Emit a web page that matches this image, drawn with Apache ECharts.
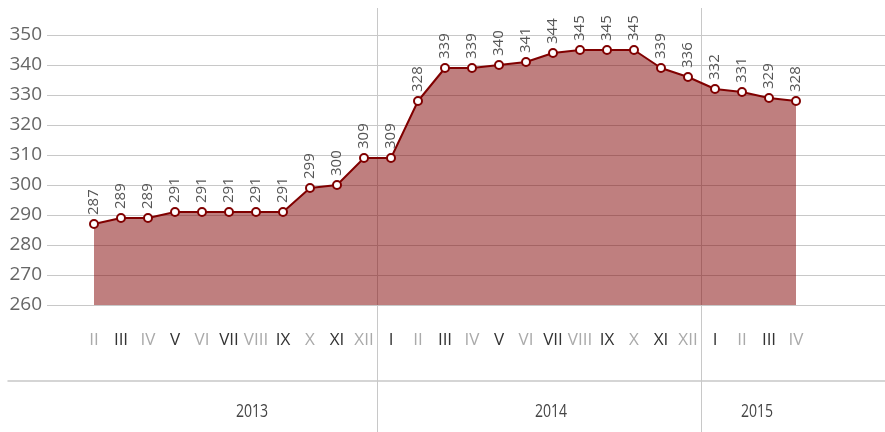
<!DOCTYPE html>
<html>
<head>
<meta charset="utf-8">
<script src="https://cdn.jsdelivr.net/npm/echarts@6/dist/echarts.min.js"></script>
<style>html,body{margin:0;padding:0;background:#fff}#c{width:885px;height:432px}</style>
</head>
<body>
<div id="c"></div>
<script>
const months = ['II','III','IV','V','VI','VII','VIII','IX','X','XI','XII','I','II','III','IV','V','VI','VII','VIII','IX','X','XI','XII','I','II','III','IV'];
const values = [287,289,289,291,291,291,291,291,299,300,309,309,328,339,339,340,341,344,345,345,345,339,336,332,331,329,328];
const years = ['2013','2014','2015'];
const yearLabelX = [252, 551, 757];
const yMin = 260, yMax = 350, yStep = 10;
const romans = ['I','II','III','IV','V','VI','VII','VIII','IX','X','XI','XII'];
const FONT = '"Open Sans", sans-serif';

const chart = echarts.init(document.getElementById('c'), null, {renderer: 'canvas'});
const N = months.length;
const band = 27;
const dataLeft = 80.5;
const dataWidth = band * N;

const option = {
  animation: false,
  grid: [
    {left: dataLeft, width: dataWidth, top: 35, height: 270},
    {left: 47, right: 0, top: 35, height: 270},
    {left: dataLeft, width: dataWidth, top: 8, bottom: 0},
    {left: 8, right: 0, top: 300, height: 81}
  ],
  xAxis: [
    {
      gridIndex: 0, type: 'category', data: months, boundaryGap: true,
      axisLine: {show: false}, axisTick: {show: false}, splitLine: {show: false},
      axisLabel: {
        interval: 0, margin: 27, fontFamily: FONT, fontSize: 17,
        formatter: function (v) {
          const n = romans.indexOf(v) + 1;
          return n % 2 === 1 ? '{d|' + v + '}' : '{l|' + v + '}';
        },
        rich: {
          d: {color: '#333', fontFamily: FONT, fontSize: 17},
          l: {color: '#aaa', fontFamily: FONT, fontSize: 17}
        }
      }
    },
    {gridIndex: 1, type: 'value', show: false},
    {
      gridIndex: 2, type: 'category', data: months, boundaryGap: true,
      axisLine: {show: false}, axisTick: {show: false}, axisLabel: {show: false},
      splitLine: {
        show: true,
        interval: function (idx) { return months[idx] === 'I'; },
        // third drawn line is the closing band edge: hide it
        lineStyle: {color: ['#c8c8c8', '#c8c8c8', 'rgba(0,0,0,0)'], width: 1}
      }
    },
    {
      gridIndex: 3, type: 'value', min: 0, max: 1,
      axisLine: {show: true, lineStyle: {color: '#c8c8c8', width: 1.5}},
      axisTick: {show: false}, axisLabel: {show: false}, splitLine: {show: false}
    }
  ],
  yAxis: [
    {gridIndex: 0, type: 'value', min: yMin, max: yMax, interval: yStep, show: false},
    {
      gridIndex: 1, type: 'value', min: yMin, max: yMax, interval: yStep,
      axisLine: {show: false}, axisTick: {show: false},
      axisLabel: {margin: 5, color: '#666', fontFamily: FONT, fontSize: 19},
      splitLine: {show: true, lineStyle: {color: '#c8c8c8', width: 1}}
    },
    {gridIndex: 2, type: 'value', show: false},
    {gridIndex: 3, type: 'value', show: false}
  ],
  series: [{
    type: 'line',
    xAxisIndex: 0, yAxisIndex: 0,
    data: values,
    z: 5,
    symbol: 'circle', symbolSize: 8,
    itemStyle: {color: '#fff', borderColor: '#800000', borderWidth: 2},
    lineStyle: {color: '#800000', width: 2},
    areaStyle: {color: '#800000', opacity: 0.5, origin: 'start'},
    label: {
      show: true, position: 'top', rotate: 90, distance: 4,
      align: 'left', verticalAlign: 'middle',
      color: '#555', fontFamily: FONT, fontSize: 15
    }
  }],
  graphic: years.map(function (y, i) {
    return {
      type: 'text', x: yearLabelX[i], y: 412, scaleX: 0.74,
      style: {text: y, align: 'center', verticalAlign: 'middle', fill: '#444', font: '19px "Open Sans", sans-serif'}
    };
  })
};
chart.setOption(option);
</script>
</body>
</html>
